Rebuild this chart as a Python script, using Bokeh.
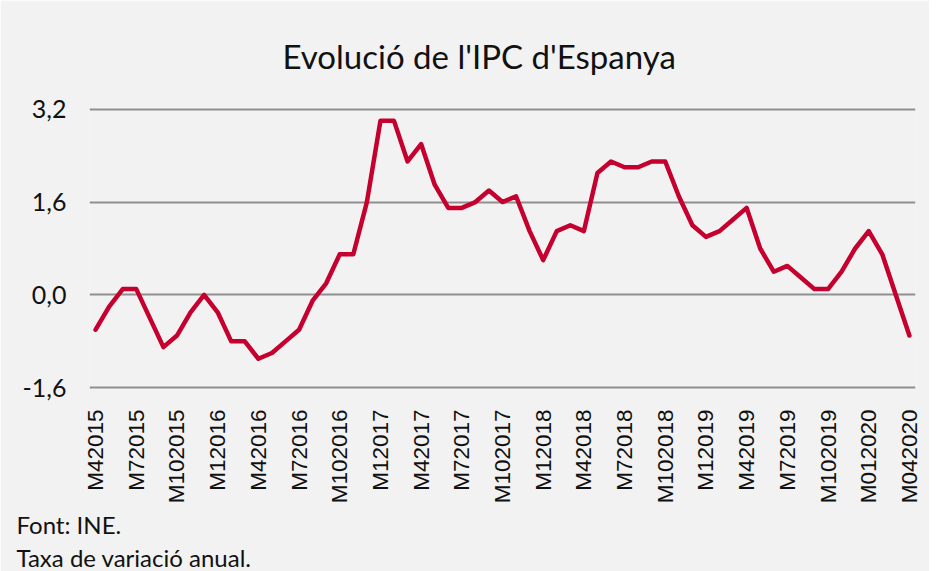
from math import pi
from bokeh.plotting import figure
from bokeh.models import FixedTicker, Title, ColumnDataSource
from bokeh.embed import file_html
from bokeh.resources import INLINE

months = [
    "M42015", "M52015", "M62015", "M72015", "M82015", "M92015", "M102015", "M112015", "M122015",
    "M12016", "M22016", "M32016", "M42016", "M52016", "M62016", "M72016", "M82016", "M92016", "M102016", "M112016", "M122016",
    "M12017", "M22017", "M32017", "M42017", "M52017", "M62017", "M72017", "M82017", "M92017", "M102017", "M112017", "M122017",
    "M12018", "M22018", "M32018", "M42018", "M52018", "M62018", "M72018", "M82018", "M92018", "M102018", "M112018", "M122018",
    "M12019", "M22019", "M32019", "M42019", "M52019", "M62019", "M72019", "M82019", "M92019", "M102019", "M112019", "M122019",
    "M012020", "M022020", "M032020", "M042020",
]
ipc = [
    -0.6, -0.2, 0.1, 0.1, -0.4, -0.9, -0.7, -0.3, 0.0,
    -0.3, -0.8, -0.8, -1.1, -1.0, -0.8, -0.6, -0.1, 0.2, 0.7, 0.7, 1.6,
    3.0, 3.0, 2.3, 2.6, 1.9, 1.5, 1.5, 1.6, 1.8, 1.6, 1.7, 1.1,
    0.6, 1.1, 1.2, 1.1, 2.1, 2.3, 2.2, 2.2, 2.3, 2.3, 1.7, 1.2,
    1.0, 1.1, 1.3, 1.5, 0.8, 0.4, 0.5, 0.3, 0.1, 0.1, 0.4, 0.8,
    1.1, 0.7, 0.0, -0.7,
]
y_ticks = [-1.6, 0.0, 1.6, 3.2]
y_tick_labels = ["-1,6", "0,0", "1,6", "3,2"]
title_text = "Evolució de l'IPC d'Espanya"
footer_lines = ["Font: INE.", "Taxa de variació anual."]

BG = "#f2f2f2"
FONT = "Lato"

idx = list(range(len(months)))
src = ColumnDataSource(dict(x=idx, y=ipc))

p = figure(frame_width=826, frame_height=282, output_backend="svg", toolbar_location=None,
           x_range=(-0.45, len(months) - 1 + 0.45), y_range=(-1.63, 3.23),
           background_fill_color=BG, border_fill_color=BG,
           min_border_left=89, min_border_right=14, min_border_top=107, min_border_bottom=0)
p.outline_line_color = None

p.line("x", "y", source=src, line_color="#c5002f", line_width=4.5, line_join="round", line_cap="round")

# title
p.title.text = title_text
p.title.text_font = FONT
p.title.text_font_size = "33px"
p.title.text_font_style = "normal"
p.title.text_color = "#111111"
p.title.align = "left"
p.title.offset = 193
p.title.standoff = 64

standoffs = [2, 3]
for line, so in zip(footer_lines, standoffs):
    t = Title(text=line, text_font=FONT, text_font_size="24px", text_font_style="normal",
              text_color="#111111", align="left", offset=-73, standoff=so)
    p.add_layout(t, "below")

# x axis
xt = list(range(0, len(months), 3))
p.xaxis.ticker = FixedTicker(ticks=xt)
p.xaxis.major_label_overrides = {i: months[i] for i in xt}
p.xaxis.major_label_orientation = pi / 2
p.xaxis.major_label_text_font = "Liberation Sans"
p.xaxis.major_label_text_font_size = "22.5px"
p.xaxis.major_label_text_color = "#111111"
p.xaxis.major_label_standoff = 14
p.xaxis.axis_line_color = None
p.xaxis.major_tick_line_color = None
p.xaxis.minor_tick_line_color = None

# y axis
p.yaxis.ticker = FixedTicker(ticks=y_ticks)
p.yaxis.major_label_overrides = {v: l for v, l in zip(y_ticks, y_tick_labels)}
p.yaxis.major_label_text_font = FONT
p.yaxis.major_label_text_font_size = "25px"
p.yaxis.major_label_text_color = "#111111"
p.yaxis.major_label_standoff = 17
p.yaxis.axis_line_color = None
p.yaxis.major_tick_line_color = None
p.yaxis.minor_tick_line_color = None

p.xgrid.grid_line_color = None
p.ygrid.ticker = FixedTicker(ticks=y_ticks)
p.ygrid.grid_line_color = "#8f8f8f"
p.ygrid.grid_line_width = 2

open("out.html", "w").write(file_html(p, INLINE))
